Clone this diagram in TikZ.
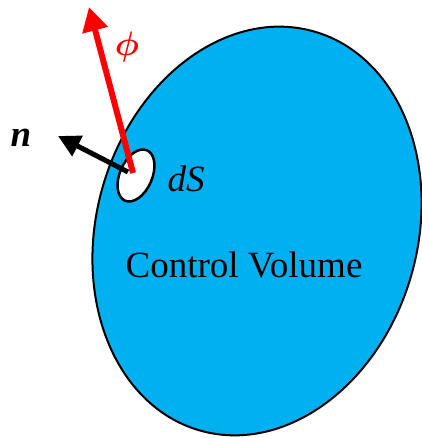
\documentclass[tikz,border=0pt]{standalone}
\usepackage{amsmath}
\usepackage{fontspec}
\setmainfont{Liberation Serif}
\usetikzlibrary{arrows.meta}
\definecolor{cvblue}{HTML}{00B0F0}
\definecolor{phired}{HTML}{FF0000}
\begin{document}
\begin{tikzpicture}[x=1pt,y=1pt,
  cvbody/.style={fill=cvblue,draw=black,line width=2pt},
  holeshape/.style={fill=white,draw=black,line width=2.5pt},
  redarrow/.style={draw=phired,line width=6pt,-{Triangle[length=24pt,width=25pt]}},
  blackarrow/.style={draw=black,line width=5pt,-{Triangle[length=22pt,width=22pt]}},
  lbl/.style={inner sep=0pt,font=\fontsize{37}{42}\selectfont}]
\useasboundingbox (0,0) rectangle (421,438);
% control volume
\path[cvbody] (257,207) ellipse [x radius=160.5pt, y radius=207.5pt, rotate=-16];
% surface element dS
\coordinate (hole) at (136,262.5);
\path[holeshape] (hole) ellipse [x radius=16.2pt, y radius=27.5pt, rotate=-23.5];
% arrows
\coordinate (nstart) at (128,266);
\coordinate (ntip) at (58,302);
\coordinate (phistart) at (133,265);
\coordinate (phitip) at (89,431);
\draw[blackarrow] (nstart) -- (ntip);
\draw[redarrow] (phistart) -- (phitip);
% labels
\node[inner sep=0pt,anchor=base,text=phired] (philbl) at (127,382) {\scalebox{3.4}{$\boldsymbol{\phi}$}};
\node[lbl,anchor=base] (nlbl) at (21,291) {\bfseries\itshape n};
\node[lbl,anchor=base] (dslbl) at (186,246) {\itshape dS};
\node[lbl,anchor=base] (cvlbl) at (244,160) {Control Volume};
\end{tikzpicture}
\end{document}
